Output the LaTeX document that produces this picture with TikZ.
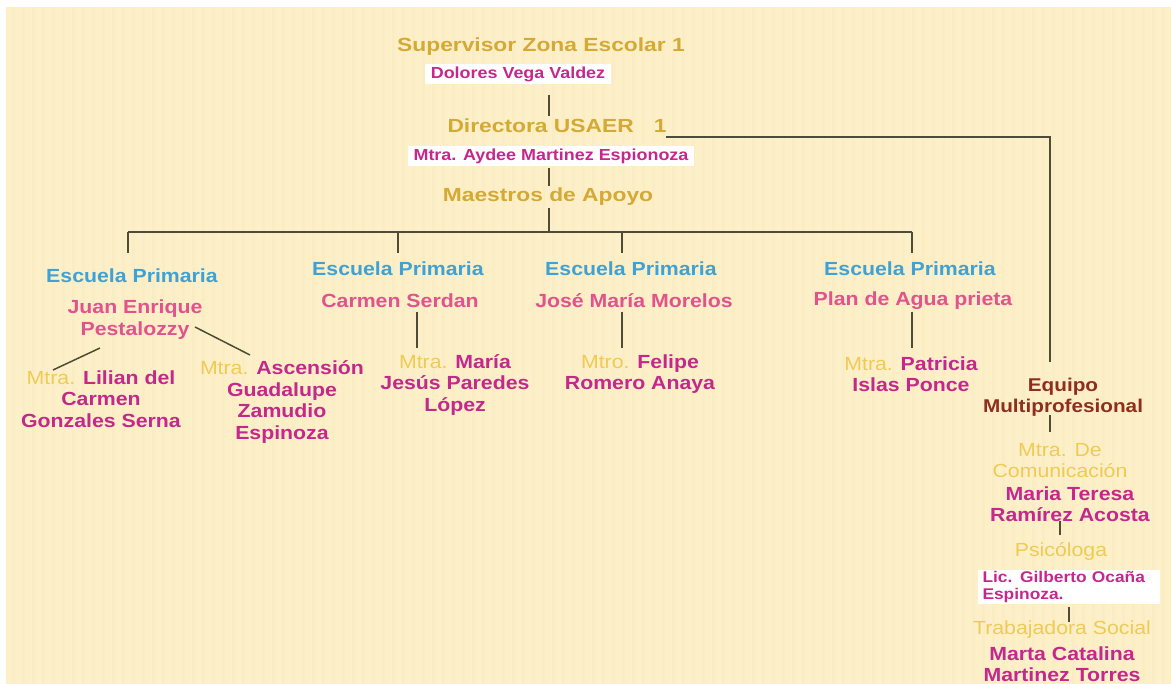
\documentclass[tikz,border=0pt]{standalone}
\usepackage{fontspec}
\setmainfont[FakeStretch=1.12]{Liberation Sans}
\newfontfamily\hdfont[FakeStretch=1.2]{Liberation Sans}
\definecolor{cream}{HTML}{FDF0C9}
\definecolor{stripe}{HTML}{FAECC3}
\definecolor{hgold}{HTML}{D4AA35}
\definecolor{tgold}{HTML}{EFCB55}
\definecolor{eblue}{HTML}{3FA2D6}
\definecolor{spink}{HTML}{E2528C}
\definecolor{nmag}{HTML}{C4288C}
\definecolor{eqred}{HTML}{8E2E1E}
\definecolor{lcol}{HTML}{4E4C36}
\newcommand\mtx[1]{{\mdseries\color{tgold}#1}}
\begin{document}
\begin{tikzpicture}[x=1pt,y=-1pt,
  hd/.style={font=\hdfont\bfseries\fontsize{19}{22}\selectfont, text=hgold, inner sep=0pt},
  bluet/.style={font=\bfseries\fontsize{19}{21}\selectfont, text=eblue, inner sep=0pt},
  pinkt/.style={font=\bfseries\fontsize{19}{22}\selectfont, text=spink, align=center, inner sep=0pt},
  nm/.style={font=\bfseries\fontsize{19}{21.5}\selectfont, text=nmag, align=center, inner sep=0pt},
  eqs/.style={font=\bfseries\fontsize{18.5}{21}\selectfont, text=eqred, align=center, inner sep=0pt},
  ttl/.style={font=\fontsize{19}{21}\selectfont, text=tgold, align=center, inner sep=0pt},
  wbox/.style={fill=white, font=\bfseries\fontsize{16}{17}\selectfont, text=nmag, inner xsep=6pt, inner ysep=3pt},
  ln/.style={draw=lcol, line width=1.8pt}]
\useasboundingbox (0,0) rectangle (1171,684);
\fill[white] (0,0) rectangle (1171,684);
\fill[cream] (6,7) rectangle (1171,684);
\foreach \x in {12,22,...,1165} \fill[stripe] (\x,7) rectangle (\x+3,684);

% top chain
\node[hd] (sup) at (541,47) {Supervisor Zona Escolar 1};
\node[wbox] (dol) at (518,74) {Dolores Vega Valdez};
\node[hd] (dir) at (557,126) {Directora USAER\hspace{20pt}1};
\node[wbox] (ayd) at (551,156) {Mtra. Aydee Martinez Espionoza};
\node[hd] (mae) at (548,197) {Maestros de Apoyo};

% schools
\node[bluet] (e1) at (132,276) {Escuela Primaria};
\node[bluet] (e2) at (398,269) {Escuela Primaria};
\node[bluet] (e3) at (631,269) {Escuela Primaria};
\node[bluet] (e4) at (910,269) {Escuela Primaria};
\node[pinkt] (s1) at (135,320) {Juan Enrique\\Pestalozzy};
\node[pinkt] (s2) at (400,301) {Carmen Serdan};
\node[pinkt] (s3) at (634,301) {José María Morelos};
\node[pinkt] (s4) at (913,301) {Plan de Agua prieta};

% teachers
\node[nm] (m1) at (101,399) {\mtx{Mtra.} Lilian del\\Carmen\\Gonzales Serna};
\node[nm] (m2) at (282,402) {\mtx{Mtra.} Ascensión\\Guadalupe\\Zamudio\\Espinoza};
\node[nm] (m3) at (455,385) {\mtx{Mtra.} María\\Jesús Paredes\\López};
\node[nm] (m4) at (640,374) {\mtx{Mtro.} Felipe\\Romero Anaya};
\node[nm] (m5) at (911,374) {\mtx{Mtra.} Patricia\\Islas Ponce};

% multiprofessional team
\node[eqs] (eq) at (1063,397) {Equipo\\Multiprofesional};
\node[ttl] (t1) at (1060,461) {Mtra. De\\Comunicación};
\node[nm] (n1) at (1070,504) {Maria Teresa\\Ramírez Acosta};
\node[ttl] (t2) at (1061,551) {Psicóloga};
\node[wbox, font=\bfseries\fontsize{15.5}{16.5}\selectfont, text width=172pt, align=left, inner xsep=5pt, inner ysep=2pt] (n2) at (1068.5,587) {Lic. Gilberto Ocaña\\Espinoza.};
\node[ttl] (t3) at (1062,630) {Trabajadora Social};
\node[nm] (n3) at (1062,664) {Marta Catalina\\Martinez Torres};

% connector end points
\coordinate (a1) at (549,95);   \coordinate (a2) at (549,116);
\coordinate (b1) at (666,137);  \coordinate (b2) at (1050,137); \coordinate (b3) at (1050,362);
\coordinate (c1) at (549,168);  \coordinate (c2) at (549,186);
\coordinate (d1) at (549,208);  \coordinate (d2) at (549,232);
\coordinate (h1) at (128,232);  \coordinate (h2) at (912,232);
\coordinate (p1) at (128,253);  \coordinate (p2) at (398,253);
\coordinate (p3) at (622,253);  \coordinate (p4) at (912,253);
\coordinate (q2) at (398,232);  \coordinate (q3) at (622,232);
\coordinate (j1) at (100,348);  \coordinate (j2) at (53,370);
\coordinate (k1) at (195,327);  \coordinate (k2) at (250,355);
\coordinate (r1) at (417,312);  \coordinate (r2) at (417,348);
\coordinate (u1) at (622,312);  \coordinate (u2) at (622,348);
\coordinate (v1) at (912,312);  \coordinate (v2) at (912,348);
\coordinate (w1) at (1050,415); \coordinate (w2) at (1050,432);
\coordinate (y1) at (1060,521); \coordinate (y2) at (1060,535);
\coordinate (z1) at (1069,607); \coordinate (z2) at (1069,622);

\draw[ln] (a1) -- (a2);
\draw[ln] (b1) -- (b2) -- (b3);
\draw[ln] (c1) -- (c2);
\draw[ln] (d1) -- (d2);
\draw[ln] (h1) -- (h2);
\draw[ln] (h1) -- (p1);
\draw[ln] (q2) -- (p2);
\draw[ln] (q3) -- (p3);
\draw[ln] (h2) -- (p4);
\draw[ln, line width=1.5pt] (j1) -- (j2);
\draw[ln, line width=1.5pt] (k1) -- (k2);
\draw[ln] (r1) -- (r2);
\draw[ln] (u1) -- (u2);
\draw[ln] (v1) -- (v2);
\draw[ln] (w1) -- (w2);
\draw[ln] (y1) -- (y2);
\draw[ln] (z1) -- (z2);
\end{tikzpicture}
\end{document}
